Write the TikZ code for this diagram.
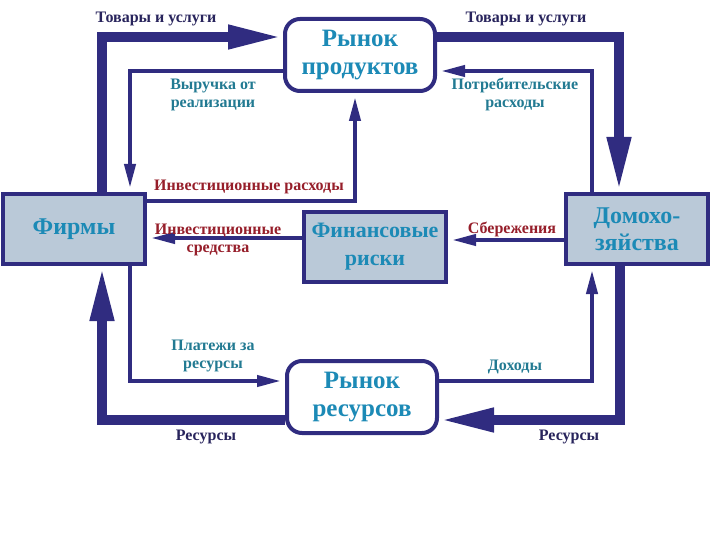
\documentclass[tikz,border=0pt]{standalone}
\usepackage{fontspec}
\setmainfont{Liberation Serif}
\usetikzlibrary{arrows.meta, positioning, calc}

\definecolor{navy}{RGB}{48,44,128}
\definecolor{boxfill}{RGB}{186,201,216}
\definecolor{boxtext}{RGB}{28,138,182}
\definecolor{tealtext}{RGB}{34,122,146}
\definecolor{redtext}{RGB}{150,30,42}
\definecolor{darktext}{RGB}{40,36,92}

\begin{document}
\begin{tikzpicture}[x=1pt, y=-1pt,
  every node/.style={font=\bfseries},
  market/.style={draw=navy, line width=4pt, fill=white, rounded corners=15pt,
    minimum width=150pt, minimum height=72pt, align=center, text=boxtext,
    font=\bfseries\fontsize{25}{28}\selectfont},
  agent/.style={draw=navy, line width=4pt, fill=boxfill,
    minimum width=142pt, minimum height=70pt, align=center, text=boxtext,
    font=\bfseries\fontsize{24}{27}\selectfont},
  bigflow/.style={draw=navy, line width=10pt, -{Triangle[length=55pt, width=22pt]}},
  smallflow/.style={draw=navy, line width=4pt, -{Triangle[length=24pt, width=11pt]}, shorten >=4pt},
  lab/.style={align=center, font=\bfseries\fontsize{16}{18}\selectfont}]

\useasboundingbox (0,0) rectangle (720,540);

% Markets and agents
\node[market] (prod) at (360,55) {Рынок\\продуктов};
\node[market] (res) at (362,397) {Рынок\\ресурсов};
\node[agent] (firmy) at (74,229) {Фирмы};
\node[agent, font=\bfseries\fontsize{22}{28}\selectfont] (fin) at (375,247) {Финансовые\\риски};
\node[agent] (hh) at (637,229) {Домохо-\\зяйства};

% Corners of the flows
\coordinate (tl) at (102,37);
\coordinate (tr) at (619,37);
\coordinate (br) at (620,420);
\coordinate (bl) at (102,420);
\coordinate (itl) at (130,71);
\coordinate (itr) at (592,71);
\coordinate (ibr) at (592,381);
\coordinate (ibl) at (130,381);
\coordinate (inv) at (355,201);

% Real flows (outer loop)
\draw[bigflow] (firmy.north -| tl) -- (tl) -- (prod.west |- tl);
\draw[bigflow] (prod.east |- tr) -- (tr) -- (hh.north -| tr);
\draw[bigflow] (hh.south -| br) -- (br) -- (res.east |- br);
\draw[bigflow] (res.west |- bl) -- (bl) -- (firmy.south -| bl);

% Money flows (inner loop)
\draw[smallflow] (prod.west |- itl) -- (itl) -- (firmy.north -| itl);
\draw[smallflow] (hh.north -| itr) -- (itr) -- (prod.east |- itr);
\draw[smallflow] (firmy.south -| ibl) -- (ibl) -- (res.west |- ibl);
\draw[smallflow] (res.east |- ibr) -- (ibr) -- (hh.south -| ibr);
\draw[smallflow] (firmy.east |- inv) -- (inv) -- (prod.south -| inv);
\draw[smallflow] (fin.west |- 0,238) -- (firmy.east |- 0,238);
\draw[smallflow] (hh.west |- 0,240) -- (fin.east |- 0,240);

% Labels
\node[lab, text=darktext] (goods1) at (156,19) {Товары и услуги};
\node[lab, text=darktext] (goods2) at (526,19) {Товары и услуги};
\node[lab, text=tealtext] (revenue) at (213,95) {Выручка от\\реализации};
\node[lab, text=tealtext] (consume) at (515,94) {Потребительские\\расходы};
\node[lab, text=redtext] (invexp) at (249,187) {Инвестиционные расходы};
\node[lab, text=redtext] (invfund) at (218,240) {Инвестиционные\\средства};
\node[lab, text=redtext] (savings) at (512,229) {Сбережения};
\node[lab, text=tealtext] (payments) at (213,356) {Платежи за\\ресурсы};
\node[lab, text=tealtext] (income) at (515,367) {Доходы};
\node[lab, text=darktext] (resources1) at (206,437) {Ресурсы};
\node[lab, text=darktext] (resources2) at (569,437) {Ресурсы};

\end{tikzpicture}
\end{document}
